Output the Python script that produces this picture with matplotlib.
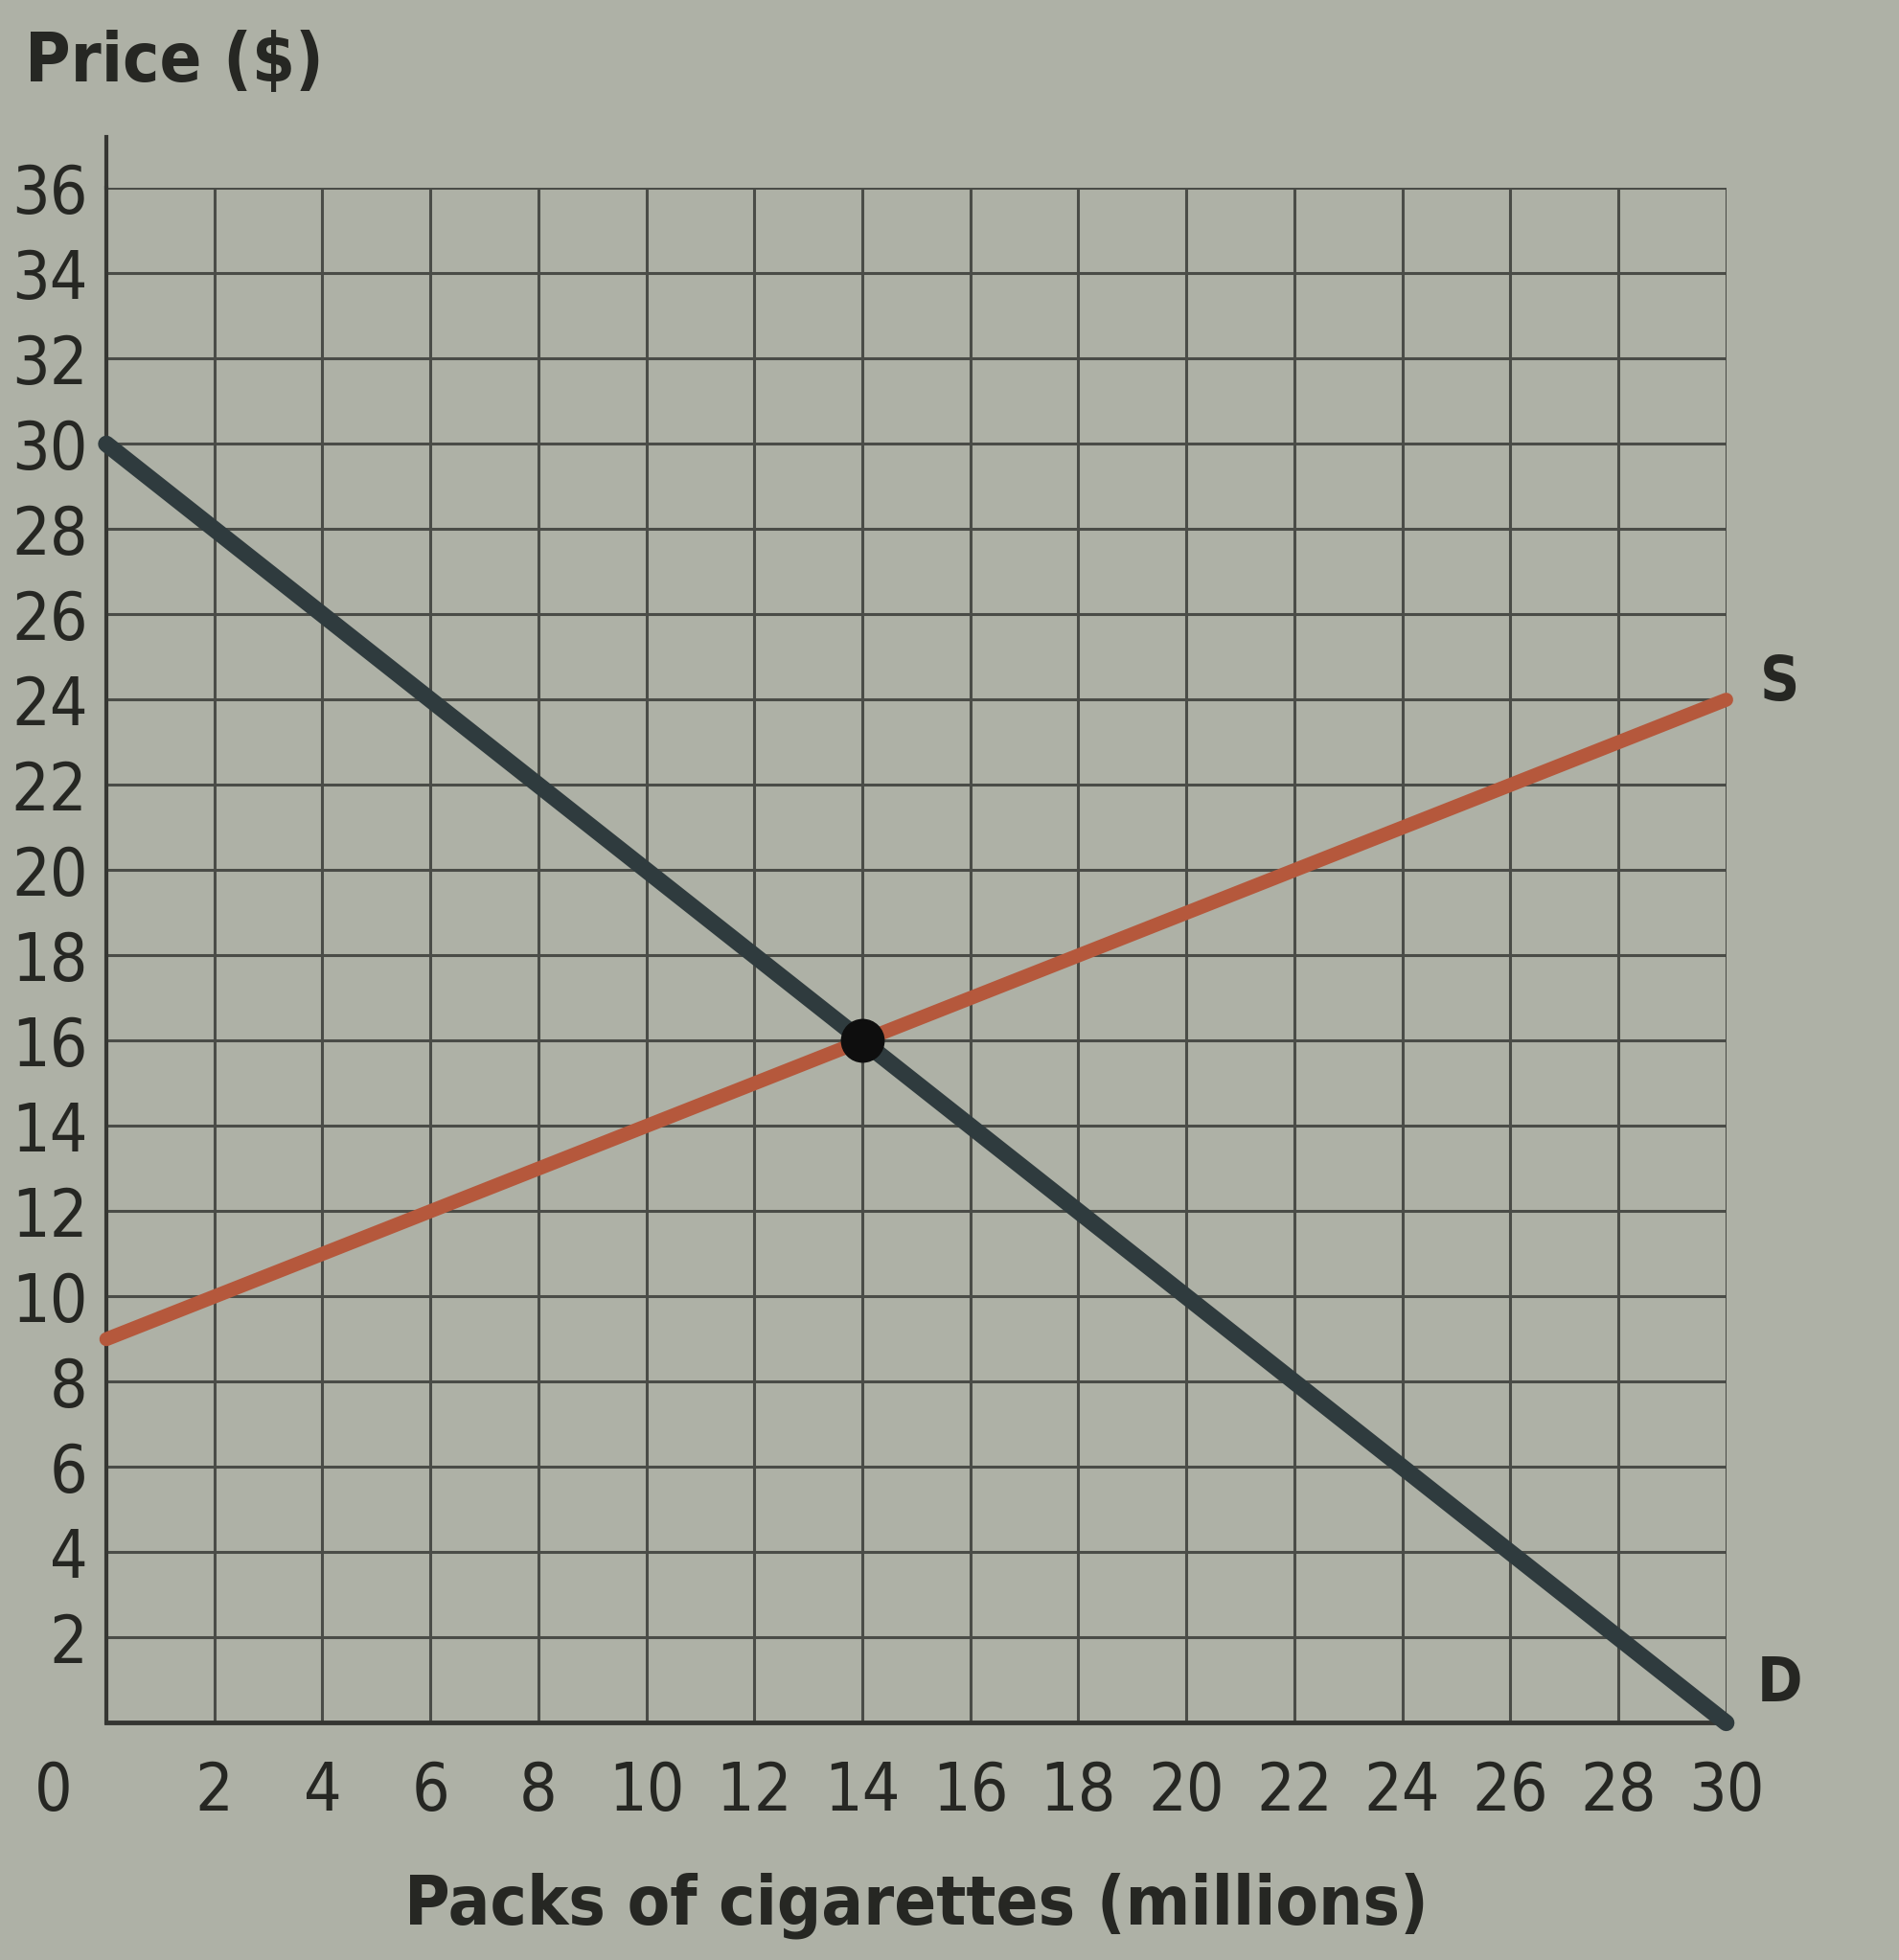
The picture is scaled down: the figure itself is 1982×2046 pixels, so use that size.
import matplotlib
matplotlib.use('Agg')
import matplotlib.pyplot as plt
import matplotlib.transforms as mtransforms

# supply / demand for cigarettes
qty = [0, 30]
demand = [30, 0]
supply = [9, 24]
eq_q = 14
eq_p = 16

xticks = list(range(0, 31, 2))
yticks = list(range(2, 37, 2))

bg = '#aeb1a6'
ink = '#262723'
plt.rcParams['font.family'] = ['DejaVu Sans']
plt.rcParams['font.stretch'] = 'condensed'

fig = plt.figure(figsize=(19.82, 20.46), dpi=100, facecolor=bg)
ax = fig.add_axes([0.056, 0.121, 0.853, 0.783], facecolor=bg)

ax.set_xlim(0, 30)
ax.set_ylim(0, 36)

# grid
for x in xticks[1:]:
    ax.axvline(x, color='#4a4c47', lw=2.2, zorder=1)
for y in yticks:
    ax.axhline(y, color='#4a4c47', lw=2.2, zorder=1)

ax.plot(qty, supply, color='#b5583c', lw=10.5, solid_capstyle='round', zorder=3, clip_on=False)
ax.plot(qty, demand, color='#2f3b3e', lw=12.5, solid_capstyle='round', zorder=4, clip_on=False)
ax.plot(eq_q, eq_p, 'o', color='#0e0e0e', ms=32, zorder=5)

ax.text(31.0, supply[1] + 0.4, 'S', fontsize=46, fontweight='bold', color=ink,
        ha='center', va='center')
ax.text(31.0, demand[1] + 0.9, 'D', fontsize=46, fontweight='bold', color=ink,
        ha='center', va='center')

for s in ['top', 'right']:
    ax.spines[s].set_visible(False)
ax.spines['left'].set_linewidth(3)
ax.spines['bottom'].set_linewidth(3.5)
ax.spines['left'].set_color('#353632')
ax.spines['bottom'].set_color('#353632')
# axis line runs a bit above the top of the grid
ax.plot([0, 0], [36, 37.2], color='#353632', lw=3, clip_on=False)

ax.set_xticks(xticks)
ax.set_xticklabels([str(v) for v in xticks])
ax.set_yticks(yticks)
ax.set_yticklabels([str(v) for v in yticks])
ax.tick_params(axis='both', length=0, labelsize=50, colors=ink)
ax.tick_params(axis='x', pad=28)
ax.tick_params(axis='y', pad=14)

# zero label sits left of the corner
off = mtransforms.ScaledTranslation(-0.55, 0, fig.dpi_scale_trans)
lbl0 = ax.get_xticklabels()[0]
lbl0.set_transform(lbl0.get_transform() + off)

fig.text(0.013, 0.968, 'Price ($)', fontsize=52, fontweight='bold', color=ink,
         ha='left', va='center')
ax.set_xlabel('Packs of cigarettes (millions)', fontsize=52, fontweight='bold',
              color=ink, labelpad=36)

fig.savefig('out.png', dpi=100, facecolor=bg)
